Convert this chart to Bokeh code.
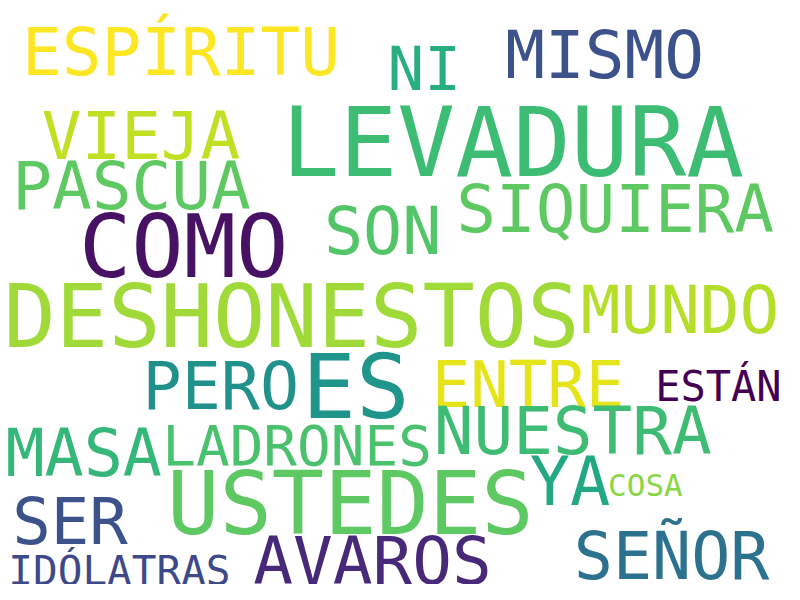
from bokeh.plotting import figure
from bokeh.models import Range1d, ColumnDataSource
from bokeh.core.properties import value
from bokeh.embed import file_html
from bokeh.resources import INLINE

# words of the cloud and their relative weight (font px)
words = ["ESPÍRITU", "NI", "MISMO", "LEVADURA", "VIEJA", "PASCUA", "SIQUIERA", "SON",
         "COMO", "DESHONESTOS", "MUNDO", "PERO", "ES", "ENTRE", "ESTÁN", "MASA",
         "LADRONES", "NUESTRA", "YA", "COSA", "USTEDES", "SER", "SEÑOR", "AVAROS", "IDÓLATRAS"]
weights = [67, 62, 67, 98, 67, 67, 67, 66, 89, 89, 67, 66, 91, 65, 43, 66,
           57, 67, 68, 32, 89, 65, 66, 67, 42]
colors = ["#fde725", "#29af7f", "#3b528b", "#3dbc74", "#c2df23", "#5ec962", "#5ec962", "#52c569",
          "#471164", "#a0da39", "#b5de2b", "#21918c", "#1f958b", "#e5e419", "#440154", "#35b779",
          "#4ac16d", "#3fbc73", "#22a884", "#8bd646", "#5ec962", "#3b528b", "#2c728e", "#482878", "#3e4989"]

# layout positions (left x, middle y) in a 800x600 canvas
xs = [22, 395, 515, 287, 42, 12, 465, 330, 80, 3, 592, 145, 308, 440, 668, 5,
      165, 442, 540, 620, 170, 12, 585, 258, 8]
ys = [53, 70, 57, 146, 140, 191, 215, 237, 253, 325, 318, 397, 397, 395, 397, 465,
      457, 443, 495, 498, 517, 536, 571, 576, 586]

W, H = 784, 584
scale = W / 800
sizes = ["%dpx" % round(w * scale) for w in weights]

src = ColumnDataSource(dict(x=xs, y=ys, text=words, color=colors, size=sizes))

p = figure(width=W, height=H, output_backend="svg", toolbar_location=None,
           x_range=Range1d(0, 800), y_range=Range1d(600, 0), min_border=0)
p.axis.visible = False
p.grid.visible = False
p.outline_line_color = None
p.background_fill_color = "white"

p.text(x="x", y="y", text="text", text_color="color", text_font_size="size",
       text_font=value("DejaVu Sans Mono"), text_baseline="middle", text_align="left",
       source=src)

open("out.html", "w").write(file_html(p, INLINE))
